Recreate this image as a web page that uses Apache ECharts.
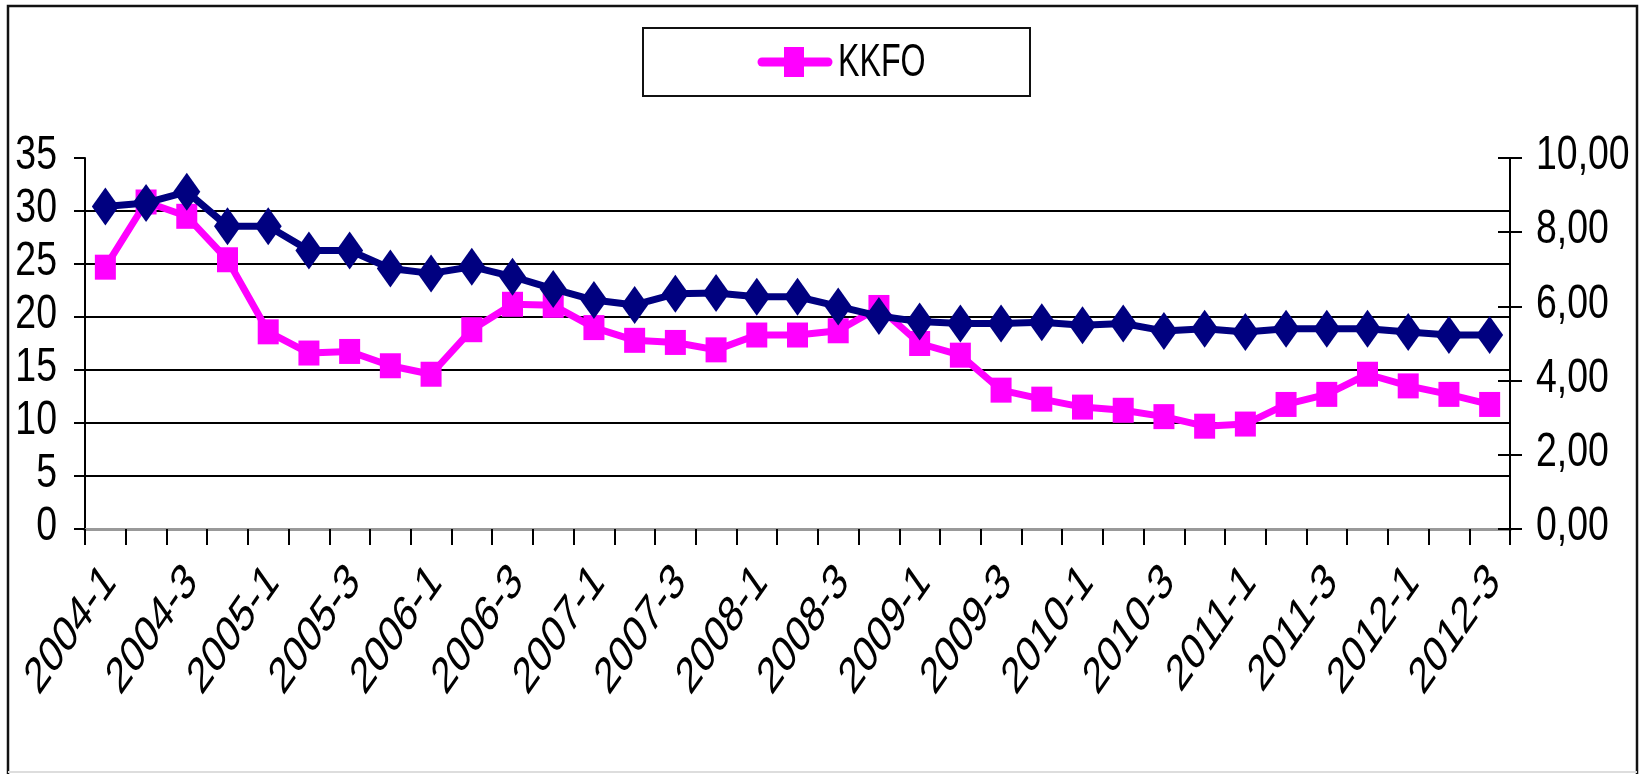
<!DOCTYPE html>
<html>
<head>
<meta charset="utf-8">
<script src="https://cdn.jsdelivr.net/npm/echarts@6/dist/echarts.min.js"></script>
<style>
  html, body { margin: 0; padding: 0; background: #fff; }
  #chart { width: 1648px; height: 774px; }
</style>
</head>
<body>
<div id="chart"></div>
<script>
// Quarterly periods, 2004-1 .. 2012-3
const quarters = [
  '2004-1','2004-2','2004-3','2004-4',
  '2005-1','2005-2','2005-3','2005-4',
  '2006-1','2006-2','2006-3','2006-4',
  '2007-1','2007-2','2007-3','2007-4',
  '2008-1','2008-2','2008-3','2008-4',
  '2009-1','2009-2','2009-3','2009-4',
  '2010-1','2010-2','2010-3','2010-4',
  '2011-1','2011-2','2011-3','2011-4',
  '2012-1','2012-2','2012-3'
];

// KKFO, left axis (0-35)
const kkfo = [
  24.7, 30.85, 29.5, 25.4,
  18.6, 16.6, 16.75, 15.4,
  14.6, 18.8, 21.2, 21.1,
  19.0, 17.8, 17.6, 16.9,
  18.3, 18.3, 18.7, 20.9,
  17.5, 16.4, 13.1, 12.25,
  11.5, 11.2, 10.6, 9.7,
  9.9, 11.75, 12.7, 14.6,
  13.5, 12.7, 11.75
];

// Second series, right axis (0,00-10,00)
const rate = [
  8.69, 8.79, 9.09, 8.16,
  8.16, 7.51, 7.51, 7.02,
  6.89, 7.07, 6.80, 6.47,
  6.17, 6.04, 6.34, 6.36,
  6.26, 6.26, 6.00, 5.74,
  5.59, 5.54, 5.54, 5.57,
  5.49, 5.54, 5.34, 5.40,
  5.31, 5.40, 5.40, 5.40,
  5.31, 5.23, 5.23
];

// Tick labels
const leftTicks = [0, 5, 10, 15, 20, 25, 30, 35];
const rightTicks = [0, 2, 4, 6, 8, 10];
const xLabels = quarters.filter((q, i) => i % 2 === 0);
const legendLabel = 'KKFO';

const fmtRight = v => v.toFixed(2).replace('.', ',');

const FONT_FAMILY = '"Liberation Sans", Arial, sans-serif';
const SQUEEZE_VALUE = 0.78;  // condensed lettering on the value axes
const SQUEEZE_CAT = 0.7;     // condensed slanted category lettering
const SQUEEZE_LEGEND = 0.7;

const chart = echarts.init(document.getElementById('chart'), null, { renderer: 'canvas' });

chart.setOption({
  animation: false,
  backgroundColor: '#ffffff',
  grid: { left: 85, right: 138, top: 158, bottom: 245, containLabel: false },
  xAxis: [
    {
      type: 'category',
      data: quarters,
      boundaryGap: true,
      axisLine: { show: true, lineStyle: { color: '#222', width: 3 } },
      axisTick: { show: true, interval: 0, length: 16, lineStyle: { color: '#000', width: 2 } },
      axisLabel: { show: false },
      splitLine: { show: false }
    },
    {
      type: 'category',
      data: quarters,
      position: 'top',
      boundaryGap: true,
      axisLine: { show: true, lineStyle: { color: '#999', width: 3 } },
      axisTick: { show: false },
      axisLabel: { show: false },
      splitLine: { show: false }
    }
  ],
  yAxis: [
    {
      type: 'value',
      position: 'left',
      min: leftTicks[0],
      max: leftTicks[leftTicks.length - 1],
      interval: leftTicks[1] - leftTicks[0],
      axisLine: { show: true, lineStyle: { color: '#000', width: 2 } },
      axisTick: { show: true, length: 11, lineStyle: { color: '#000', width: 2 } },
      axisLabel: { show: false },
      splitLine: {
        show: true,
        lineStyle: {
          color: ['#333', '#000', '#000', '#000', '#000', '#000', '#000', 'rgba(0,0,0,0)'],
          width: 2
        }
      }
    },
    {
      type: 'value',
      position: 'right',
      min: rightTicks[0],
      max: rightTicks[rightTicks.length - 1],
      interval: rightTicks[1] - rightTicks[0],
      axisLine: { show: true, lineStyle: { color: '#000', width: 2 } },
      axisTick: { show: true, length: 12, lineStyle: { color: '#000', width: 2 } },
      axisLabel: { show: false },
      splitLine: { show: false }
    },
    {
      type: 'value',
      position: 'right',
      min: rightTicks[0],
      max: rightTicks[rightTicks.length - 1],
      interval: rightTicks[1] - rightTicks[0],
      axisLine: { show: false },
      axisTick: { show: true, inside: true, length: 12, lineStyle: { color: '#000', width: 2 } },
      axisLabel: { show: false },
      splitLine: { show: false }
    }
  ],
  series: [
    {
      name: 'KKFO',
      type: 'line',
      yAxisIndex: 0,
      data: kkfo,
      symbol: 'rect',
      symbolSize: [21, 25],
      showAllSymbol: true,
      lineStyle: { color: '#ff00ff', width: 7 },
      itemStyle: { color: '#ff00ff' },
      z: 3
    },
    {
      name: 'rate',
      type: 'line',
      yAxisIndex: 1,
      data: rate,
      symbol: 'diamond',
      symbolSize: [27, 38],
      showAllSymbol: true,
      lineStyle: { color: '#000080', width: 7 },
      itemStyle: { color: '#000080' },
      z: 4
    }
  ]
});

// Axis labels, legend and frame, placed through the chart's own scales
const graphics = [];

// outer frame
graphics.push({
  type: 'rect', z: -1,
  shape: { x: 8, y: 6, width: 1629, height: 800 },
  style: { fill: 'none', stroke: '#111', lineWidth: 2.5 }
});
graphics.push({
  type: 'line', z: -1,
  shape: { x1: 8, y1: 772, x2: 1637, y2: 772 },
  style: { stroke: '#ddd', lineWidth: 2 }
});

const gridRect = chart.getModel().getComponent('grid', 0).coordinateSystem.getRect();
const axisBottom = gridRect.y + gridRect.height;

// left value labels
leftTicks.forEach(v => {
  const y = chart.convertToPixel({ yAxisIndex: 0 }, v);
  graphics.push({
    type: 'text',
    x: gridRect.x - 28, y: y - 2, scaleX: SQUEEZE_VALUE,
    style: {
      text: String(v), x: 0, y: 0,
      font: '48px ' + FONT_FAMILY, fill: '#000',
      align: 'right', verticalAlign: 'middle'
    }
  });
});

// right value labels
rightTicks.forEach(v => {
  const y = chart.convertToPixel({ yAxisIndex: 1 }, v);
  graphics.push({
    type: 'text',
    x: gridRect.x + gridRect.width + 26, y: y - 2, scaleX: SQUEEZE_VALUE,
    style: {
      text: fmtRight(v), x: 0, y: 0,
      font: '48px ' + FONT_FAMILY, fill: '#000',
      align: 'left', verticalAlign: 'middle'
    }
  });
});

// category labels: slanted at 45 degrees, then condensed horizontally
xLabels.forEach(q => {
  const x = chart.convertToPixel({ xAxisIndex: 0 }, q);
  graphics.push({
    type: 'group',
    x: x + 5, y: axisBottom + 45, scaleX: SQUEEZE_CAT,
    children: [{
      type: 'text',
      rotation: Math.PI / 4,
      style: {
        text: q, x: 0, y: 0,
        font: '51px ' + FONT_FAMILY, fill: '#000',
        align: 'right', verticalAlign: 'middle'
      }
    }]
  });
});

// legend box
graphics.push({
  type: 'rect',
  shape: { x: 643, y: 28, width: 387, height: 68 },
  style: { fill: '#fff', stroke: '#111', lineWidth: 2 }
});
graphics.push({
  type: 'line',
  shape: { x1: 762, y1: 62, x2: 828, y2: 62 },
  style: { stroke: '#ff00ff', lineWidth: 9, lineCap: 'round' }
});
graphics.push({
  type: 'rect',
  shape: { x: 784, y: 47, width: 20, height: 30 },
  style: { fill: '#ff00ff' }
});
graphics.push({
  type: 'text',
  x: 838, y: 63, scaleX: SQUEEZE_LEGEND,
  style: {
    text: legendLabel, x: 0, y: 0,
    font: '46px ' + FONT_FAMILY, fill: '#000',
    align: 'left', verticalAlign: 'middle'
  }
});

chart.setOption({ graphic: graphics });
</script>
</body>
</html>
